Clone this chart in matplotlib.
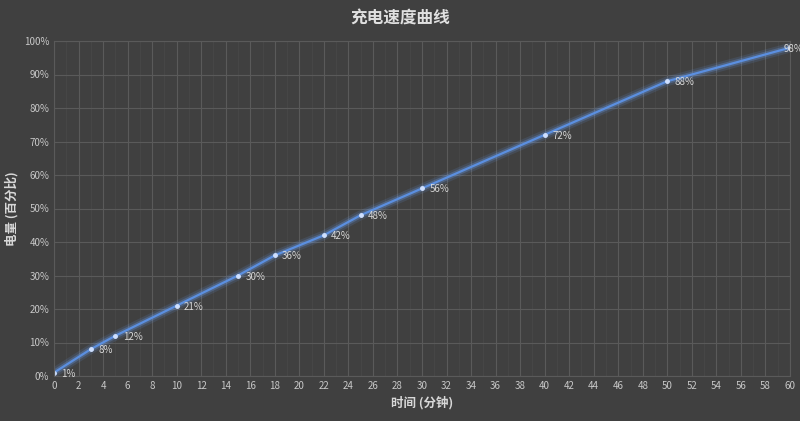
import matplotlib.pyplot as plt
import numpy as np

plt.rcParams['font.family'] = ['Noto Sans CJK SC', 'DejaVu Sans']

minutes = [0, 3, 5, 10, 15, 18, 22, 25, 30, 40, 50, 60]
battery = [1, 8, 12, 21, 30, 36, 42, 48, 56, 72, 88, 98]

bg = '#404040'
fig = plt.figure(figsize=(8, 4.21), dpi=100, facecolor=bg)
ax = fig.add_axes([54 / 800, 45 / 421, 736 / 800, 335 / 421], facecolor=bg)

# glow then main line
for lw, a in [(7, 0.12), (4, 0.25)]:
    ax.plot(minutes, battery, color='#6fa8ff', lw=lw, alpha=a, solid_capstyle='round')
ax.plot(minutes, battery, color='#5b8fe0', lw=1.6, marker='o', ms=2.5,
        mfc='#cfe0ff', mec='#cfe0ff')
for x, y in zip(minutes, battery):
    dx = 0.6 if x < 60 else -0.5
    ax.text(x + dx, y - 0.3, f'{y}%', color='#d8d8d8', fontsize=7, va='center')

ax.set_xlim(0, 60)
ax.set_ylim(0, 100)
ax.set_xticks(np.arange(0, 61, 2))
ax.set_xticks(np.arange(0, 61, 1), minor=True)
ax.set_yticks(np.arange(0, 101, 10))
ax.set_yticklabels([f'{v}%' for v in range(0, 101, 10)])
ax.grid(which='major', color='#5a5a5a', lw=0.8)
ax.grid(which='minor', axis='x', color='#4a4a4a', lw=0.5)
ax.tick_params(colors='#c8c8c8', labelsize=7, length=0)
ax.tick_params(which='minor', length=0)
for s in ax.spines.values():
    s.set_color('#5a5a5a')

ax.set_xlabel('时间 (分钟)', color='#d8d8d8', fontsize=9, fontweight='bold')
ax.set_ylabel('电量 (百分比)', color='#d8d8d8', fontsize=9, fontweight='bold')
fig.text(0.5, 0.955, '充电速度曲线', color='#e0e0e0', fontsize=12,
         fontweight='bold', ha='center', va='center')

fig.savefig('out.png', dpi=100, facecolor=bg)
